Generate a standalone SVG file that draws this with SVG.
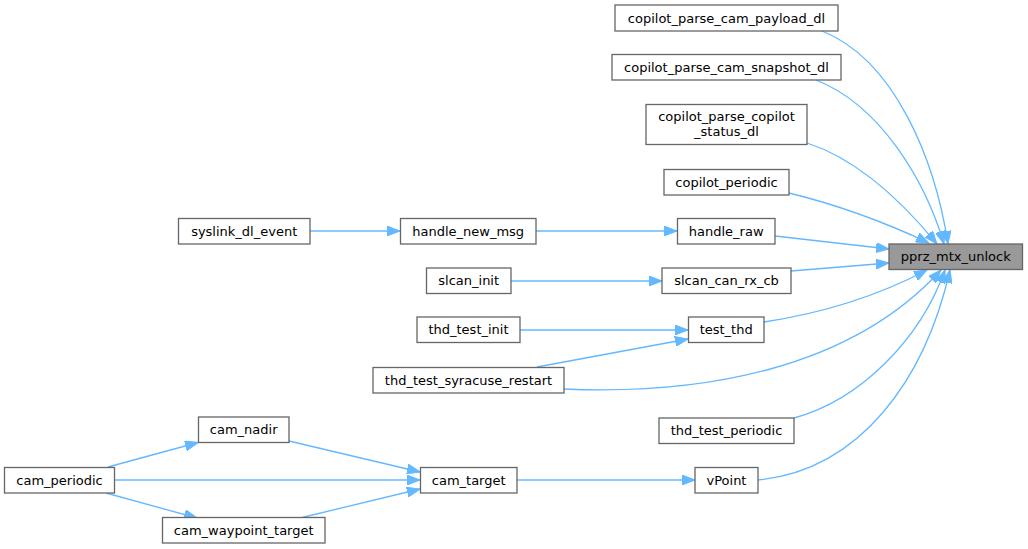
<svg xmlns="http://www.w3.org/2000/svg" width="1028" height="549" viewBox="0 0 1028 549">
<style>
.n rect{fill:#ffffff;stroke:#666666;stroke-width:1.3}
.f rect{fill:#999999;stroke:#666666;stroke-width:1.3}
text{font-family:"DejaVu Sans","Liberation Sans",sans-serif;font-size:13px;fill:#000000;text-anchor:middle}
.e path{fill:none;stroke:#63b8ff;stroke-width:1.3;marker-end:url(#a)}
</style>
<defs>
<marker id="a" viewBox="0 0 13 10" refX="13" refY="5" markerUnits="userSpaceOnUse" markerWidth="13" markerHeight="10" orient="auto">
<path d="M0,0 L13,5 L0,10 z" fill="#63b8ff" stroke="#63b8ff" stroke-width="1"/>
</marker>
</defs>
<rect width="1028" height="549" fill="#ffffff"/>
<g class="e" id="edges">
<path d="M822,31 C895,60 935,160 948,244"/>
<path d="M816,80 C880,105 925,180 944,244"/>
<path d="M807,143 C860,160 905,205 937,244"/>
<path d="M789,193 C830,203 880,220 929,243"/>
<path d="M775,236 L889,249"/>
<path d="M791,271 L889,263"/>
<path d="M764,322 C810,315 870,300 927,270"/>
<path d="M564,389 C700,395 850,370 941,270"/>
<path d="M794,418 C860,400 920,340 945,270"/>
<path d="M758,480 C860,470 925,380 950,270"/>
<path d="M310,231 L400,231"/>
<path d="M536,231 L677,231"/>
<path d="M511,281 L662,281"/>
<path d="M520,330 L688,330"/>
<path d="M537,367 L688,339"/>
<path d="M289,441 L420,472"/>
<path d="M115,480 L420,480"/>
<path d="M302,517.5 L420,489"/>
<path d="M108,467 L198,442.5"/>
<path d="M106,493 L197,518"/>
<path d="M517,480 L695,480"/>
</g>
<g class="n" id="copilot_parse_cam_payload_dl"><rect x="615" y="5" width="223" height="26"/><text x="726.5" y="22.5">copilot_parse_cam_payload_dl</text></g>
<g class="n" id="copilot_parse_cam_snapshot_dl"><rect x="612" y="54.5" width="229" height="25.5"/><text x="726.5" y="71.5">copilot_parse_cam_snapshot_dl</text></g>
<g class="n" id="copilot_parse_copilot_status_dl"><rect x="646" y="104.5" width="161" height="40"/><text x="726.5" y="121">copilot_parse_copilot</text><text x="726.5" y="135.5">_status_dl</text></g>
<g class="n" id="copilot_periodic"><rect x="664" y="169.5" width="125" height="25.5"/><text x="726.5" y="186.5">copilot_periodic</text></g>
<g class="n" id="handle_raw"><rect x="677.5" y="218.5" width="97.5" height="25.5"/><text x="726.2" y="235.5">handle_raw</text></g>
<g class="f" id="pprz_mtx_unlock"><rect x="889" y="244" width="133.5" height="25.5"/><text x="955.8" y="261">pprz_mtx_unlock</text></g>
<g class="n" id="slcan_can_rx_cb"><rect x="662" y="268" width="129" height="25.5"/><text x="726.5" y="285">slcan_can_rx_cb</text></g>
<g class="n" id="test_thd"><rect x="688.5" y="317" width="75.5" height="25.5"/><text x="726.2" y="334">test_thd</text></g>
<g class="n" id="thd_test_periodic"><rect x="659" y="418" width="135" height="25.5"/><text x="726.5" y="435">thd_test_periodic</text></g>
<g class="n" id="vPoint"><rect x="695" y="467.5" width="63" height="25.5"/><text x="726.5" y="484.5">vPoint</text></g>
<g class="n" id="syslink_dl_event"><rect x="178.5" y="218.5" width="131.5" height="25.5"/><text x="244.2" y="235.5">syslink_dl_event</text></g>
<g class="n" id="handle_new_msg"><rect x="400.5" y="218.5" width="135.5" height="25.5"/><text x="468.2" y="235.5">handle_new_msg</text></g>
<g class="n" id="slcan_init"><rect x="426.5" y="268" width="84.5" height="25.5"/><text x="468.7" y="285">slcan_init</text></g>
<g class="n" id="thd_test_init"><rect x="417" y="317" width="103" height="25.5"/><text x="468.5" y="334">thd_test_init</text></g>
<g class="n" id="thd_test_syracuse_restart"><rect x="373" y="367.5" width="191" height="25.5"/><text x="468.5" y="384.5">thd_test_syracuse_restart</text></g>
<g class="n" id="cam_nadir"><rect x="198.5" y="417" width="90.5" height="25.5"/><text x="243.7" y="434">cam_nadir</text></g>
<g class="n" id="cam_periodic"><rect x="4.5" y="467.5" width="110" height="25.5"/><text x="59.5" y="484.5">cam_periodic</text></g>
<g class="n" id="cam_target"><rect x="420.5" y="467.5" width="96.5" height="25.5"/><text x="468.7" y="484.5">cam_target</text></g>
<g class="n" id="cam_waypoint_target"><rect x="162.5" y="517.5" width="162.5" height="25.5"/><text x="243.7" y="534.5">cam_waypoint_target</text></g>
</svg>
